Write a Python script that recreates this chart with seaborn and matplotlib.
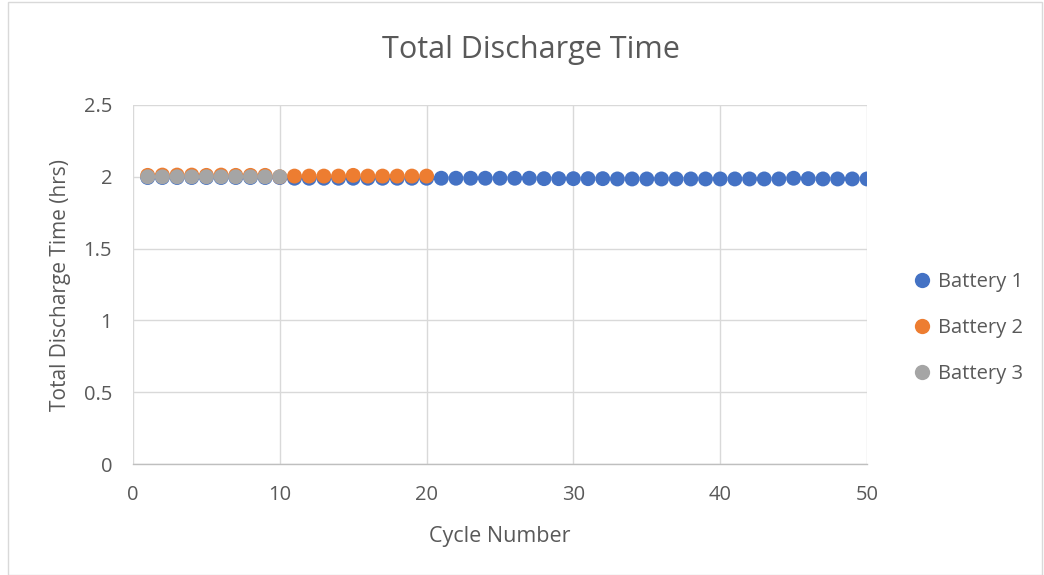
import numpy as np
import pandas as pd
import matplotlib
matplotlib.use("Agg")
import matplotlib.pyplot as plt
import seaborn as sns
from matplotlib.lines import Line2D

# ---- data ----
cycles_b1 = list(range(1, 51))
time_b1 = [1.995, 1.995, 1.995, 1.995, 1.995, 1.995, 1.995, 1.995, 1.995, 1.995,
           1.99, 1.99, 1.99, 1.99, 1.99, 1.99, 1.99, 1.99, 1.99, 1.99,
           1.99, 1.99, 1.99, 1.99, 1.99, 1.99, 1.99, 1.987, 1.987, 1.987,
           1.987, 1.987, 1.985, 1.985, 1.985, 1.985, 1.985, 1.985, 1.985, 1.985,
           1.985, 1.985, 1.985, 1.985, 1.99, 1.987, 1.985, 1.985, 1.985, 1.985]
cycles_b2 = list(range(1, 21))
time_b2 = [2.01, 2.012, 2.012, 2.012, 2.01, 2.012, 2.01, 2.01, 2.01, 2.0,
           2.005, 2.005, 2.005, 2.005, 2.01, 2.005, 2.005, 2.005, 2.005, 2.005]
cycles_b3 = list(range(1, 11))
time_b3 = [2.0, 2.0, 2.0, 2.0, 2.0, 2.0, 2.0, 2.0, 2.0, 2.0]
series_names = ["Battery 1", "Battery 2", "Battery 3"]
colors = ["#4472C4", "#ED7D31", "#A5A5A5"]
x_ticks = [0, 10, 20, 30, 40, 50]
y_ticks = [0, 0.5, 1, 1.5, 2, 2.5]
y_tick_labels = ["0", "0.5", "1", "1.5", "2", "2.5"]

df = pd.concat([
    pd.DataFrame({"Cycle": cycles_b1, "Time": time_b1, "Series": series_names[0]}),
    pd.DataFrame({"Cycle": cycles_b2, "Time": time_b2, "Series": series_names[1]}),
    pd.DataFrame({"Cycle": cycles_b3, "Time": time_b3, "Series": series_names[2]}),
], ignore_index=True)

sns.set_theme(style="white")
plt.rcParams['font.family'] = ['Open Sans', 'DejaVu Sans']
text_color = "#595959"

fig = plt.figure(figsize=(10.44, 5.75), dpi=100)
ax = fig.add_axes([133/1044, 1 - 464/575, (867-133)/1044, (464-105)/575])

sns.scatterplot(data=df, x="Cycle", y="Time", hue="Series",
                palette=dict(zip(series_names, colors)),
                s=115, linewidth=0, ax=ax, legend=False, zorder=3)

ax.set_xlim(0, 50)
ax.set_ylim(0, 2.5)
ax.set_xticks(x_ticks)
ax.set_yticks(y_ticks)
ax.set_yticklabels(y_tick_labels)
ax.grid(True, color="#D9D9D9", linewidth=1)
ax.set_axisbelow(True)
for side in ["top", "right", "left"]:
    ax.spines[side].set_visible(False)
ax.spines["bottom"].set_color("#BFBFBF")
ax.spines["bottom"].set_linewidth(1)
ax.tick_params(axis="both", length=0, labelsize=14.5, labelcolor=text_color, pad=15)

ax.set_xlabel("Cycle Number", fontsize=15.5, color=text_color, labelpad=15)
ax.set_ylabel("Total Discharge Time (hrs)", fontsize=15, color=text_color, labelpad=9)
fig.text(531/1044, 1 - 50/575, "Total Discharge Time", ha="center", va="center",
         fontsize=22, color=text_color)

handles = [Line2D([0], [0], marker="o", linestyle="", markersize=11,
                  markerfacecolor=c, markeredgewidth=0) for c in colors]
leg = fig.legend(handles, series_names, loc="center left",
                 bbox_to_anchor=(912/1044, 1 - 328/575), frameon=False,
                 fontsize=14.5, labelspacing=1.3, handletextpad=0.3,
                 handlelength=1.0, borderaxespad=0, borderpad=0)
for t in leg.get_texts():
    t.set_color(text_color)

# outer border
fig.patches.append(plt.Rectangle((0.008, 0.0), 0.99, 0.997, transform=fig.transFigure,
                                 fill=False, edgecolor="#D9D9D9", linewidth=1))

fig.savefig("out.png", dpi=100)
